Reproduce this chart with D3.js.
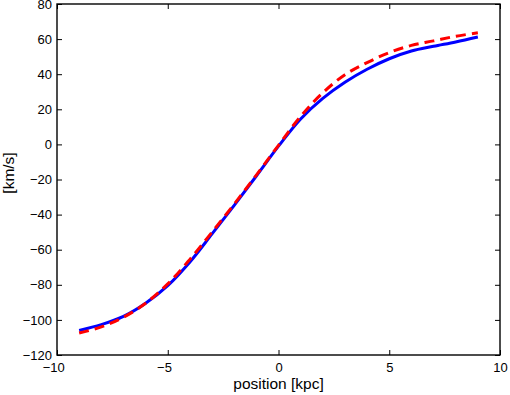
<!DOCTYPE html>
<html>
<head>
<meta charset="utf-8">
<script src="https://cdn.jsdelivr.net/npm/d3@7"></script>
<style>
body{margin:0;background:#fff;}
svg{display:block;}
text{font-family:"Liberation Sans",Arial,Helvetica,sans-serif;fill:#000;}
</style>
</head>
<body>
<svg id="chart" width="510" height="395"></svg>
<script>
const positions = [-9,-8,-7,-6,-5,-4,-3,-2,-1,0,1,2,3,4,5,6,7,8,9];
const blueValues = [-106,-102.7,-98,-90.5,-80.5,-67,-51,-34.7,-18,-1,14.5,26.2,35.4,42.8,48.8,53.2,55.9,58.4,61.2];
const redValues = [-107.5,-104,-98.5,-90.5,-79.5,-65.5,-50,-34,-17.5,-0.5,16,29.4,39.7,46.6,52.3,56.4,59,61.6,63.6];
const xTicks = [-10,-5,0,5,10];
const yTicks = [-120,-100,-80,-60,-40,-20,0,20,40,60,80];
const xLabel = "position [kpc]";
const yLabel = "[km/s]";

const svg = d3.select("#chart");
const L = 57, R = 500, T = 4, B = 355;
const x = d3.scaleLinear().domain([-10,10]).range([L,R]);
const y = d3.scaleLinear().domain([-120,80]).range([B,T]);
const fmt = d => d < 0 ? "\u2212" + Math.abs(d) : String(d);

const line = d3.line().x(d => x(d[0])).y(d => y(d[1])).curve(d3.curveCatmullRom);

svg.append("path").datum(positions.map((p,i)=>[p,blueValues[i]]))
  .attr("d", line).attr("fill","none").attr("stroke","#0000ff").attr("stroke-width",3);
svg.append("path").datum(positions.map((p,i)=>[p,redValues[i]]))
  .attr("d", line).attr("fill","none").attr("stroke","#ff0000").attr("stroke-width",3)
  .attr("stroke-dasharray","10,6");

// axes box with inward ticks
svg.append("rect").attr("x",L).attr("y",T).attr("width",R-L).attr("height",B-T)
  .attr("fill","none").attr("stroke","#000").attr("stroke-width",1.4);

const gB = svg.append("g").attr("transform",`translate(0,${B})`)
  .call(d3.axisBottom(x).tickValues(xTicks).tickSize(-5).tickFormat(fmt).tickPadding(8));
const gT = svg.append("g").attr("transform",`translate(0,${T})`)
  .call(d3.axisTop(x).tickValues(xTicks).tickSize(-5).tickFormat(""));
const gL = svg.append("g").attr("transform",`translate(${L},0)`)
  .call(d3.axisLeft(y).tickValues(yTicks).tickSize(-5).tickFormat(fmt).tickPadding(5));
const gR = svg.append("g").attr("transform",`translate(${R},0)`)
  .call(d3.axisRight(y).tickValues(yTicks).tickSize(-5).tickFormat(""));
[gB,gT,gL,gR].forEach(g=>{
  g.select(".domain").remove();
  g.selectAll("line").attr("stroke","#000").attr("stroke-width",1);
  g.selectAll("text").attr("fill","#000").style("font-size","13px")
   .style("font-family","'Liberation Sans',Arial,sans-serif");
});
// digits centred on tick, minus sign hangs left
gB.selectAll("text").attr("dx", d => d < 0 ? -3.8 : 0);

svg.append("text").attr("x",(L+R)/2).attr("y",389).attr("text-anchor","middle")
  .style("font-size","15.5px").text(xLabel);
svg.append("text").attr("transform",`translate(14,173) rotate(-90)`).attr("text-anchor","middle")
  .style("font-size","15.5px").text(yLabel);
</script>
</body>
</html>
